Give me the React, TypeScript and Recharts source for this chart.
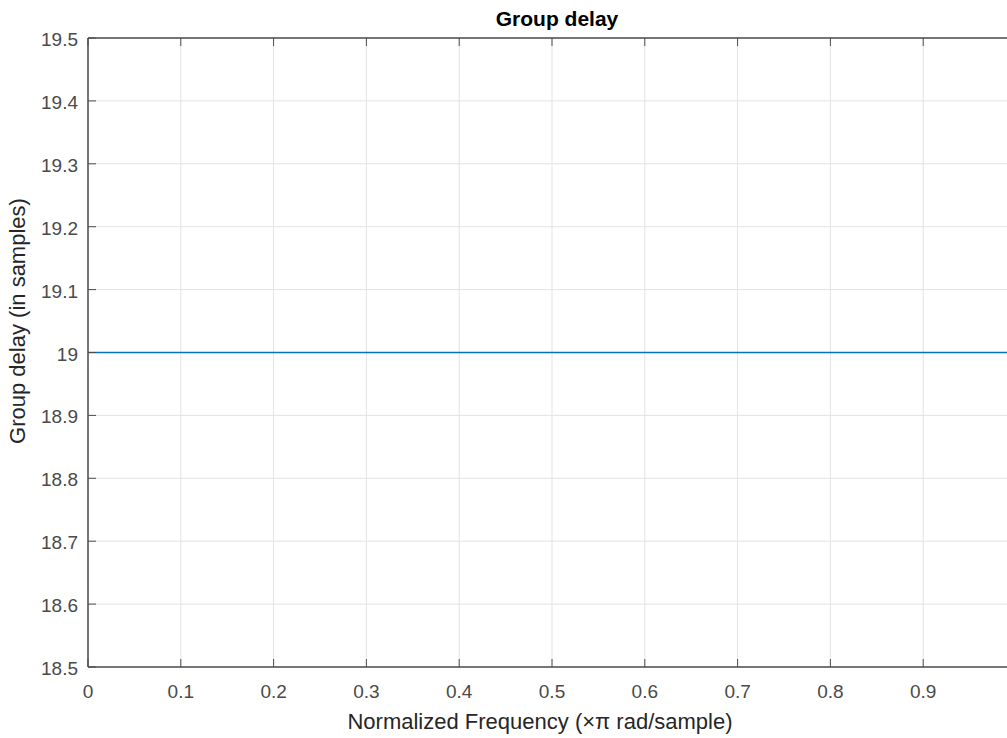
import { CartesianGrid, Line, LineChart, XAxis, YAxis } from "recharts";

// normalized frequency (x pi rad/sample) and group delay (samples)
const freq = [0, 0.25, 0.5, 0.75, 1];
const delay = [19, 19, 19, 19, 19];

const xTicks = [0, 0.1, 0.2, 0.3, 0.4, 0.5, 0.6, 0.7, 0.8, 0.9];
const xTickLabels = ["0", "0.1", "0.2", "0.3", "0.4", "0.5", "0.6", "0.7", "0.8", "0.9"];
const yTicks = [18.5, 18.6, 18.7, 18.8, 18.9, 19, 19.1, 19.2, 19.3, 19.4, 19.5];
const yTickLabels = ["18.5", "18.6", "18.7", "18.8", "18.9", "19", "19.1", "19.2", "19.3", "19.4", "19.5"];

const data = freq.map((f, i) => ({ freq: f, delay: delay[i] }));

const FONT = "'Liberation Sans', Arial, Helvetica, sans-serif";
const AXIS = "#4d4d4d";
const TEXT = "#4a4a4a";

function YTick(props: any) {
  const { x, y, index } = props;
  return (
    <g>
      <line x1={x} y1={y} x2={x + 8} y2={y} stroke={AXIS} strokeWidth={1} />
      <text x={x - 10} y={y} dy={8} textAnchor="end" fill={TEXT} fontSize={19} fontFamily={FONT}>
        {yTickLabels[index]}
      </text>
    </g>
  );
}

function XTick(props: any) {
  const { x, y, index } = props;
  return (
    <g>
      <line x1={x} y1={y} x2={x} y2={y - 8} stroke={AXIS} strokeWidth={1} />
      <text x={x} y={y + 31} textAnchor="middle" fill={TEXT} fontSize={19} fontFamily={FONT}>
        {xTickLabels[index]}
      </text>
    </g>
  );
}

function TopTick(props: any) {
  const { x, y } = props;
  return <line x1={x} y1={y} x2={x} y2={y + 8} stroke={AXIS} strokeWidth={1} />;
}

export default function App() {
  return (
    <div
      style={{
        position: "absolute",
        left: 0,
        top: 0,
        width: 1007,
        height: 738,
        overflow: "hidden",
        background: "#fff",
      }}
    >
      <LineChart
        width={1030}
        height={738}
        data={data}
        margin={{ top: 37, right: 14, bottom: 70, left: 87 }}
      >
        <CartesianGrid xAxisId="bottom" stroke="#e3e3e3" strokeWidth={1} />
        <XAxis
          xAxisId="bottom"
          dataKey="freq"
          type="number"
          domain={[0, 1]}
          ticks={xTicks}
          height={1}
          tickSize={0}
          tickMargin={0}
          tick={<XTick />}
          axisLine={{ stroke: AXIS, strokeWidth: 1.5 }}
          interval={0}
        />
        <XAxis
          xAxisId="top"
          orientation="top"
          dataKey="freq"
          type="number"
          domain={[0, 1]}
          ticks={xTicks}
          height={1}
          tickSize={0}
          tickMargin={0}
          tick={<TopTick />}
          axisLine={{ stroke: AXIS, strokeWidth: 1.5 }}
          interval={0}
        />
        <YAxis
          type="number"
          domain={[18.5, 19.5]}
          ticks={yTicks}
          width={1}
          tickSize={0}
          tickMargin={0}
          tick={<YTick />}
          axisLine={{ stroke: AXIS, strokeWidth: 1.5 }}
          interval={0}
          allowDataOverflow
        />
        <Line
          xAxisId="bottom"
          dataKey="delay"
          stroke="#0072bd"
          strokeWidth={1.5}
          dot={false}
          isAnimationActive={false}
        />
      </LineChart>
      <svg
        width={1007}
        height={738}
        style={{ position: "absolute", left: 0, top: 0, pointerEvents: "none" }}
      >
        <text x={557} y={26} textAnchor="middle" fontFamily={FONT} fontWeight="bold" fontSize={21} fill="#000">
          Group delay
        </text>
        <text x={540} y={729} textAnchor="middle" fontFamily={FONT} fontSize={22} fill="#262626">
          Normalized Frequency (×π rad/sample)
        </text>
        <text
          x={0}
          y={0}
          transform="translate(25, 321) rotate(-90)"
          textAnchor="middle"
          fontFamily={FONT}
          fontSize={22}
          fill="#262626"
        >
          Group delay (in samples)
        </text>
      </svg>
    </div>
  );
}
